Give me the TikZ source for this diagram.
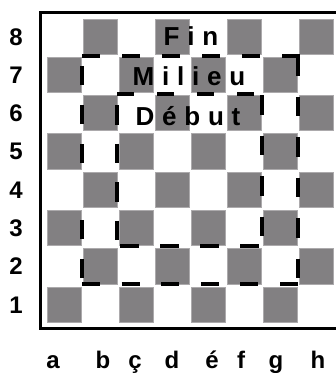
\documentclass[tikz,border=0pt]{standalone}
\usepackage{fontspec}
\setmainfont{Liberation Sans}
\definecolor{caseSombre}{RGB}{130,128,130}
\definecolor{bordCase}{RGB}{172,170,172}
\begin{document}
\begin{tikzpicture}[
x=1pt, y=-1pt,
case/.style={fill=caseSombre, draw=bordCase, line width=0.8pt},
cadre/.style={line width=3pt},
trace/.style={line width=3.3pt},
chiffre/.style={font=\fontsize{24}{24}\selectfont\bfseries, inner sep=0pt, anchor=base},
lettre/.style={font=\fontsize{24}{24}\selectfont\bfseries, inner sep=0pt, anchor=base},
phase/.style={font=\fontsize{26}{26}\selectfont\bfseries\addfontfeature{LetterSpace=30}, inner sep=0pt, anchor=base}
]
\useasboundingbox (0,0) rectangle (336,373);
\draw[cadre] (336,12.5) -| (40.7,328) -- (336,328);
\foreach \c in {0,...,7}
  \foreach \k in {0,...,7} {
    \pgfmathtruncatemacro\sombre{mod(\c+\k,2)}
    \ifnum\sombre=1
      \draw[case] ({47.7+36*\c},{18.9+38.3*\k}) rectangle +(34,35.2);
    \fi
  }
\foreach \r [count=\k from 0] in {8,...,1}
  \node[chiffre] (rang\r) at (16,{18.5+38.3*\k+26.5}) {\r};
\foreach \l/\x [count=\n] in {a/53,b/103,ç/135,d/172,é/212,f/241,g/276,h/318}
  \node[lettre] (colonne\n) at (\x,368) {\l};
\node[phase] (fin) at (191,45) {Fin};
\node[phase] (milieu) at (189,85) {Milieu};
\node[phase] (debut) at (188,125) {Début};
\draw[trace, dash pattern=on 18pt off 22pt] (82,56) -- (299.6,56);
\draw[trace, dash pattern=on 19.5pt off 21pt] (298,56) -- (298,279);
\draw[trace, dash pattern=on 18pt off 21.6pt] (82,284) -- (299.6,284);
\draw[trace, dash pattern=on 19pt off 20pt] (82,278) -- (82,219);
\draw[trace, dash pattern=on 19pt off 20pt] (82,163) -- (82,64);
\draw[trace, dash pattern=on 17pt off 23pt] (117,94) -- (262,94);
\draw[trace, dash pattern=on 18.5pt off 21.5pt] (120,246) -- (262,246);
\draw[trace, dash pattern=on 19.5pt off 21pt] (262,95) -- (262,238);
\draw[trace, dash pattern=on 19.5pt off 19pt] (117,105) -- (117,241);
\end{tikzpicture}
\end{document}
